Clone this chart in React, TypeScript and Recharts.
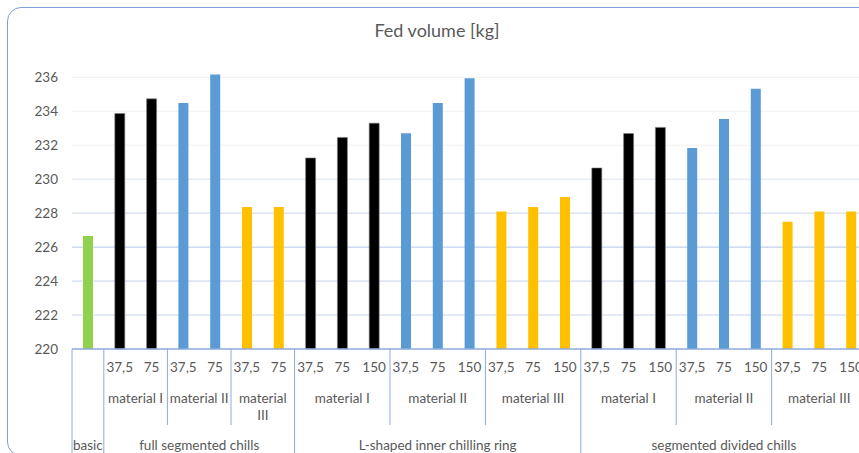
import React from 'react';
import { BarChart, Bar, XAxis, YAxis, CartesianGrid, Cell } from 'recharts';

// ---- data ----
const doses = ['', '37,5', '75', '37,5', '75', '37,5', '75', '37,5', '75', '150', '37,5', '75', '150', '37,5', '75', '150', '37,5', '75', '150', '37,5', '75', '150', '37,5', '75', '150'];
const values = [226.65, 233.87, 234.73, 234.48, 236.17, 228.36, 228.36, 231.25, 232.46, 233.3, 232.71, 234.48, 235.94, 228.1, 228.36, 228.95, 230.66, 232.69, 233.05, 231.84, 233.55, 235.33, 227.5, 228.09, 228.09];
const materials = ['', 'material I', 'material II', 'material III', 'material I', 'material II', 'material III', 'material I', 'material II', 'material III'];
const materialSizes = [1, 2, 2, 2, 3, 3, 3, 3, 3, 3];
const groups = ['basic', 'full segmented chills', 'L-shaped inner chilling ring', 'segmented divided chills'];
const groupSizes = [1, 6, 9, 9];
const yTicks = [220, 222, 224, 226, 228, 230, 232, 234, 236];

const materialColors: Record<string, string> = {
  '': '#92d050',
  'material I': '#000000',
  'material II': '#5b9bd5',
  'material III': '#ffc000',
};

// ---- derived structure ----
type Span = { label: string; start: number; end: number };
const toSpans = (labels: string[], sizes: number[]): Span[] => {
  let s = 0;
  return labels.map((label, i) => {
    const span = { label, start: s, end: s + sizes[i] };
    s += sizes[i];
    return span;
  });
};
const materialSpans = toSpans(materials, materialSizes);
const groupSpans = toSpans(groups, groupSizes);

const materialOf = (i: number) => materialSpans.find((m) => i >= m.start && i < m.end)!.label;

const data = values.map((v, i) => ({
  x: i + 0.5,
  value: v,
  dose: doses[i],
  material: materialOf(i),
}));

const groupBounds = new Set<number>();
groupSpans.forEach((g) => { groupBounds.add(g.start); groupBounds.add(g.end); });
const materialBounds = new Set<number>();
materialSpans.forEach((m) => { materialBounds.add(m.start); materialBounds.add(m.end); });

const tickSet = new Set<number>();
data.forEach((d) => tickSet.add(d.x));
groupBounds.forEach((b) => tickSet.add(b));
materialBounds.forEach((b) => tickSet.add(b));
materialSpans.forEach((m) => tickSet.add((m.start + m.end) / 2));
groupSpans.forEach((g) => tickSet.add((g.start + g.end) / 2));
const xTicks = Array.from(tickSet).sort((a, b) => a - b);

const eq = (a: number, b: number) => Math.abs(a - b) < 1e-6;

const TEXT = '#595959';
const LINE = '#8eaadb';
const FONT = 'Lato, "Noto Sans", sans-serif';
const FS = 13.5;

const XTick = (props: any) => {
  const { x, y, payload } = props;
  const v: number = payload.value;
  const els: React.ReactNode[] = [];
  if (eq(v, Math.round(v))) {
    const r = Math.round(v);
    if (groupBounds.has(r)) {
      els.push(<line key="gl" x1={x} x2={x} y1={y} y2={y + 110} stroke={LINE} strokeWidth={1} />);
    } else if (materialBounds.has(r)) {
      els.push(<line key="ml" x1={x} x2={x} y1={y} y2={y + 76} stroke={LINE} strokeWidth={1} />);
    }
  }
  const ci = Math.floor(v);
  if (eq(v - ci, 0.5) && doses[ci]) {
    els.push(
      <text key="d" x={x} y={y + 22.5} textAnchor="middle" fill={TEXT} fontSize={FS} fontFamily={FONT}>{doses[ci]}</text>
    );
  }
  materialSpans.forEach((m, i) => {
    if (m.label && eq((m.start + m.end) / 2, v)) {
      const wrap = m.end - m.start < 3 && m.label.length > 11;
      if (wrap) {
        const parts = m.label.split(' ');
        els.push(<text key={'m' + i} x={x} y={y + 54} textAnchor="middle" fill={TEXT} fontSize={FS} fontFamily={FONT}>{parts[0]}</text>);
        els.push(<text key={'m2' + i} x={x} y={y + 71} textAnchor="middle" fill={TEXT} fontSize={FS} fontFamily={FONT}>{parts[1]}</text>);
      } else {
        els.push(<text key={'m' + i} x={x} y={y + 54} textAnchor="middle" fill={TEXT} fontSize={FS} fontFamily={FONT}>{m.label}</text>);
      }
    }
  });
  groupSpans.forEach((g, i) => {
    if (eq((g.start + g.end) / 2, v)) {
      els.push(<text key={'g' + i} x={x} y={y + 101} textAnchor="middle" fill={TEXT} fontSize={FS} fontFamily={FONT}>{g.label}</text>);
    }
  });
  return <g>{els}</g>;
};

// grid line colours, from the 220 line (index 0) upward
const gridColors = ['#ffffff', '#c9d6ee', '#c3d2ec', '#b4c6e7', '#c9d6ee', '#dae3f3', '#f1f1f1', '#f1f1f1', '#f1f1f1'];

const GridLine = (p: any) => {
  const idx = typeof p.index === 'number' ? p.index : -1;
  const c = gridColors[idx];
  if (!c) return <g />;
  return <line x1={p.x1} x2={p.x2} y1={p.y1} y2={p.y2} stroke={c} strokeWidth={1} />;
};

export default function App() {
  return (
    <div style={{ position: 'fixed', left: 0, top: 0, width: 859, height: 453, overflow: 'hidden', background: '#ffffff' }}>
      <div style={{ position: 'absolute', left: 7, top: 7, width: 920, height: 449, border: '1px solid #7f9fd8', borderRadius: 14, boxSizing: 'border-box' }} />
      <div style={{ position: 'absolute', left: 337, top: 19, width: 200, textAlign: 'center', fontFamily: FONT, fontSize: 18, color: TEXT, lineHeight: '22px' }}>
        Fed volume [kg]
      </div>
      <div style={{ position: 'absolute', left: 0, top: 0 }}>
        <BarChart width={880} height={453} data={data} margin={{ top: 70.5, right: 13, bottom: 0, left: 12 }}>
          <CartesianGrid vertical={false} horizontal={GridLine as any} syncWithTicks />
          <XAxis
            dataKey="x"
            type="number"
            domain={[0, 25]}
            ticks={xTicks}
            interval={0}
            tick={<XTick />}
            tickLine={false}
            tickSize={0}
            tickMargin={0}
            axisLine={{ stroke: LINE, strokeWidth: 1.5 }}
            height={104}
            allowDecimals
          />
          <YAxis
            domain={[220, 236.4]}
            ticks={yTicks}
            interval={0}
            axisLine={false}
            tickLine={false}
            tickSize={0}
            tickMargin={14}
            width={60}
            tick={{ fill: TEXT, fontSize: FS, fontFamily: FONT }}
          />
          <Bar dataKey="value" barSize={10} isAnimationActive={false}>
            {data.map((d, i) => (
              <Cell key={i} fill={materialColors[d.material]} stroke={d.material === 'material I' ? '#7f7f7f' : 'none'} strokeWidth={0.6} />
            ))}
          </Bar>
        </BarChart>
      </div>
    </div>
  );
}
